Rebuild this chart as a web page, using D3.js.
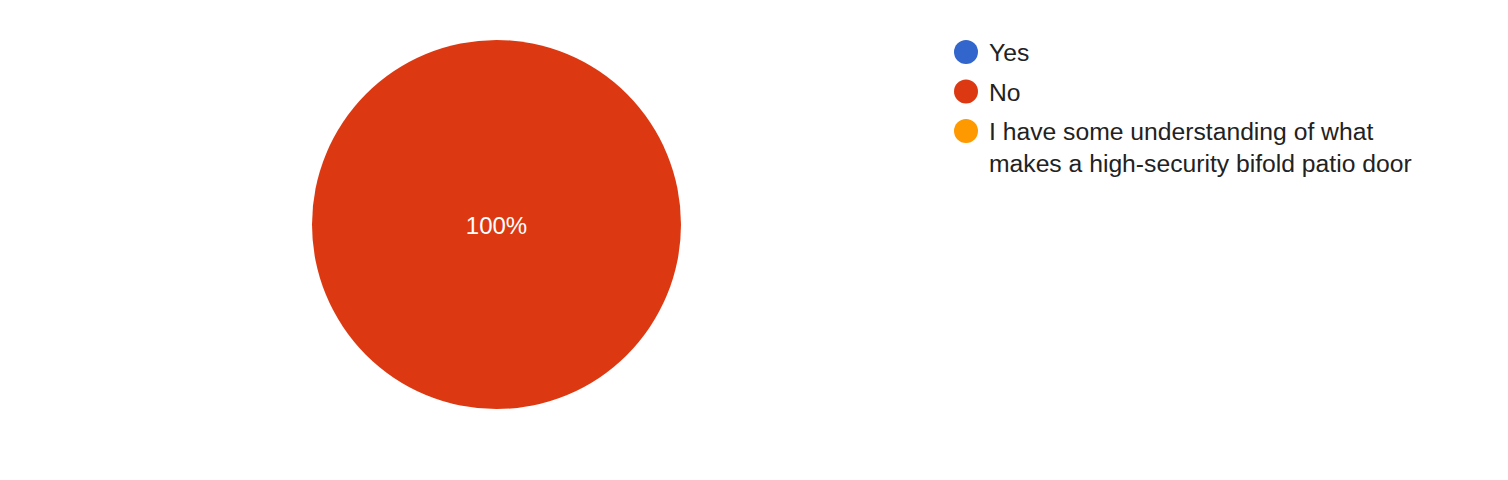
<!DOCTYPE html>
<html>
<head>
<meta charset="utf-8">
<script src="https://cdn.jsdelivr.net/npm/d3@7"></script>
<style>
	html, body { margin: 0; padding: 0; background: #fff; }
	svg { display: block; font-family: Arial, "Liberation Sans", sans-serif; }
</style>
</head>
<body>
<div id="chart"></div>
<script>
	"use strict";

	// answers and counts (only "No" got responses)
	var categories = ["Yes", "No", "I have some understanding of what makes a high-security bifold patio door"];
	var legendLines = [["Yes"], ["No"], ["I have some understanding of what", "makes a high-security bifold patio door"]];
	var values = [0, 1, 0];
	var colors = ["#3366cc", "#dc3912", "#ff9900"];

	var width = 1508,
		height = 480,
		cx = 496.5,
		cy = 224.5,
		radius = 184.5,
		fontSize = 24,
		legendFontSize = 24.7;

	var svg = d3.select("#chart").append("svg")
		.attr("width", width)
		.attr("height", height);

	var color = d3.scaleOrdinal().domain(categories).range(colors);

	var pie = d3.pie().sort(null).value(function(d) { return d.value; });
	var arc = d3.arc().innerRadius(0).outerRadius(radius);

	var data = categories.map(function(c, i) { return {name: c, value: values[i]}; });
	var total = d3.sum(values);

	var g = svg.append("g")
		.attr("transform", "translate(" + cx + "," + cy + ")");

	var slices = pie(data).filter(function(d) { return d.value > 0; });

	g.selectAll("path.slice")
		.data(slices)
		.enter().append("path")
		.attr("class", "slice")
		.attr("d", arc)
		.attr("fill", function(d) { return color(d.data.name); });

	// percent labels; a full circle puts its label in the middle
	g.selectAll("text.pct")
		.data(slices)
		.enter().append("text")
		.attr("class", "pct")
		.attr("transform", function(d) {
			if (d.endAngle - d.startAngle >= 2 * Math.PI - 1e-6) return "translate(0,0)";
			return "translate(" + d3.arc().innerRadius(radius * 0.6).outerRadius(radius * 0.6).centroid(d) + ")";
		})
		.attr("text-anchor", "middle")
		.attr("y", 9)
		.attr("font-size", fontSize)
		.attr("fill", "#fff")
		.text(function(d) { return d3.format(".0%")(d.value / total); });

	// legend
	var legend = svg.append("g")
		.attr("transform", "translate(966,52)");

	var rowY = [0, 39.5, 79];

	var items = legend.selectAll("g.item")
		.data(categories)
		.enter().append("g")
		.attr("class", "item")
		.attr("transform", function(d, i) { return "translate(0," + rowY[i] + ")"; });

	items.append("circle")
		.attr("r", 12)
		.attr("fill", function(d) { return color(d); });

	items.append("text")
		.attr("x", 23)
		.attr("y", 9)
		.attr("font-size", legendFontSize)
		.attr("fill", "#222")
		.selectAll("tspan")
		.data(function(d, i) { return legendLines[i]; })
		.enter().append("tspan")
		.attr("x", 23)
		.attr("dy", function(d, i) { return i === 0 ? 0 : 32; })
		.text(function(d) { return d; });
</script>
</body>
</html>
